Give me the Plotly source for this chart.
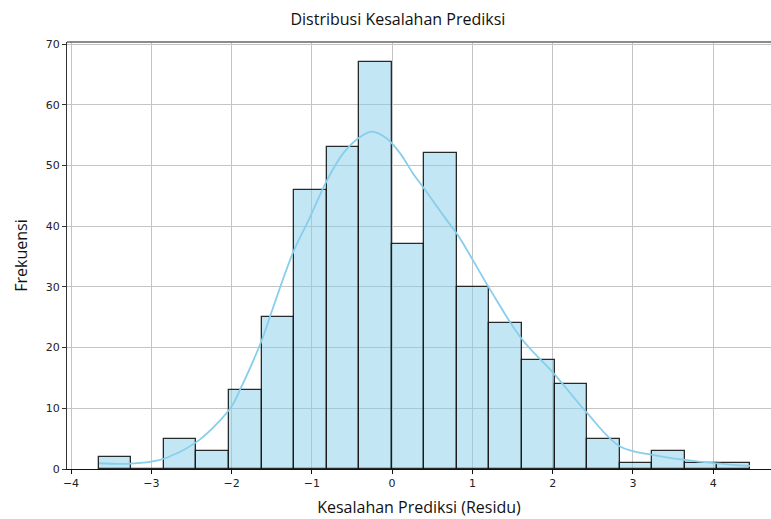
import plotly.graph_objects as go

# Histogram data
bin_start = -3.655
bin_width = 0.4056
counts = [2, 0, 5, 3, 13, 25, 46, 53, 67, 37, 52, 30, 24, 18, 14, 5, 1, 3, 1, 1]

# KDE curve points
kde_x = [-3.65, -3.3, -3.0, -2.8, -2.4, -2.0, -1.9, -1.63, -1.48, -1.23, -1.04,
         -0.81, -0.61, -0.40, -0.25, -0.07, 0.10, 0.26, 0.41, 0.68, 0.83, 1.21,
         1.61, 2.01, 2.43, 2.84, 3.26, 3.65, 4.04, 4.46]
kde_y = [0.95, 0.85, 1.2, 1.9, 4.8, 10.3, 12.9, 21.0, 26.7, 35.8, 41.0,
         47.6, 52.0, 54.7, 55.6, 54.5, 52.0, 48.7, 46.0, 41.0, 38.3, 29.8,
         21.5, 15.8, 9.2, 3.7, 2.3, 1.5, 0.94, 0.5]

x_ticks = [-4, -3, -2, -1, 0, 1, 2, 3, 4]
x_tick_labels = ["\u22124", "\u22123", "\u22122", "\u22121", "0", "1", "2", "3", "4"]
y_ticks = [0, 10, 20, 30, 40, 50, 60, 70]

centers = [bin_start + bin_width * (i + 0.5) for i in range(len(counts))]

fig = go.Figure()
fig.add_trace(go.Bar(
    x=centers, y=counts, width=[bin_width] * len(counts),
    marker=dict(color="rgba(135,206,235,0.5)",
                line=dict(color="rgba(20,20,20,0.9)", width=1.3)),
    showlegend=False, hoverinfo="skip",
))
fig.add_trace(go.Scatter(
    x=kde_x, y=kde_y, mode="lines",
    line=dict(color="#87CEEB", width=1.8, shape="spline", smoothing=1.0),
    showlegend=False, hoverinfo="skip",
))

label_font = dict(family="Open Sans, Noto Sans, sans-serif", size=16, color="#111")
title_font = dict(family="Open Sans, Noto Sans, sans-serif", size=16, color="#111")

fig.update_layout(
    width=771, height=519,
    margin=dict(l=67, r=0, t=42, b=50),
    paper_bgcolor="white", plot_bgcolor="white",
    bargap=0,
    title=dict(text="Distribusi Kesalahan Prediksi", x=0.47, xref="paper",
               xanchor="center", y=0.963, yanchor="middle", font=title_font),
    font=dict(family="DejaVu Sans, sans-serif", size=11, color="#222"),
)
fig.update_xaxes(
    range=[-4.05, 4.72], tickvals=x_ticks, ticktext=x_tick_labels,
    showgrid=True, gridcolor="#c4c4c4", gridwidth=1,
    showline=True, linecolor="#111", linewidth=1.2,
    ticks="outside", ticklen=4, tickcolor="#111", zeroline=False,
    title=dict(text="Kesalahan Prediksi (Residu)", standoff=12, font=label_font),
)
fig.update_yaxes(
    range=[0, 70.35], tickvals=y_ticks,
    showgrid=True, gridcolor="#c4c4c4", gridwidth=1,
    showline=True, linecolor="#333", linewidth=1.2,
    ticks="outside", ticklen=4, tickcolor="#333", zeroline=False,
    title=dict(text="Frekuensi", standoff=14, font=label_font),
)
fig.add_shape(type="line", xref="paper", yref="paper", x0=0, x1=1, y0=1, y1=1,
              line=dict(color="#666", width=1.5))

fig.write_html("out.html", config={"displayModeBar": False},
               post_script="document.body.style.margin='0';")
